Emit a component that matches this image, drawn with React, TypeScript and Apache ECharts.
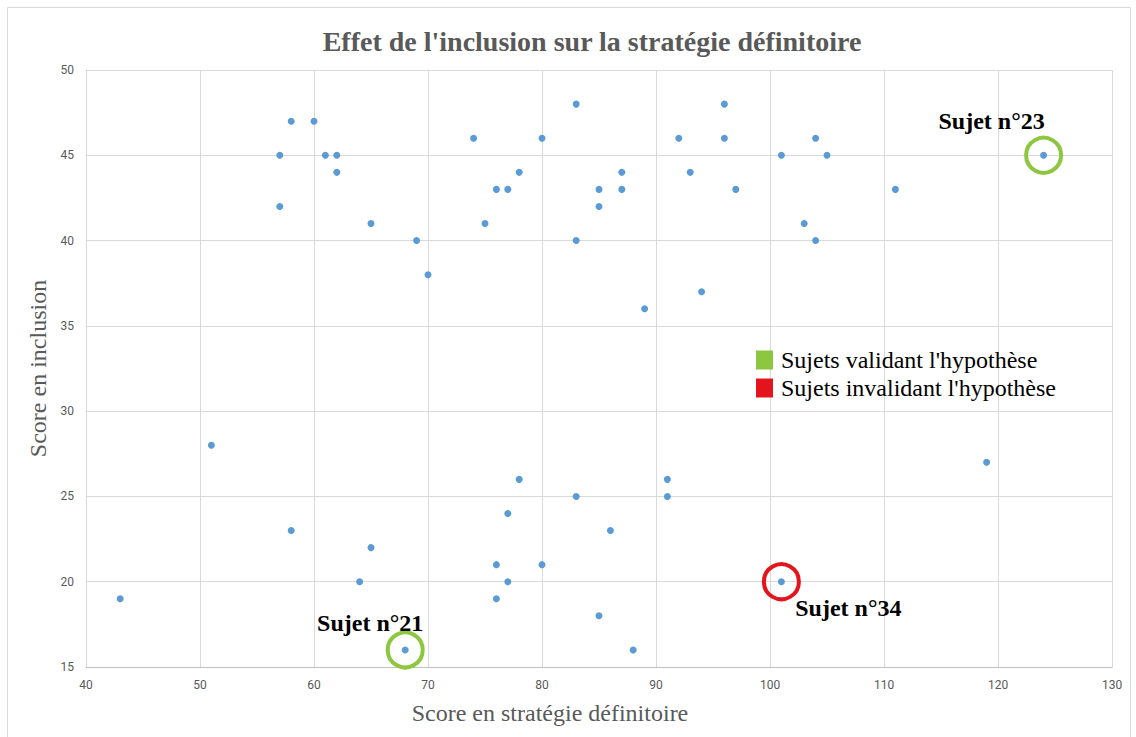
import React, { useEffect, useRef } from "react";
import * as echarts from "echarts";

// Score en stratégie définitoire (x) / Score en inclusion (y)
const strategyScores = [
  57, 57, 58, 60, 61, 62, 62, 65, 69, 70, 74, 75, 76, 77, 78, 80, 83, 83, 85, 85,
  87, 87, 89, 92, 93, 94, 96, 96, 97, 101, 103, 104, 104, 105, 111, 124,
  43, 51, 58, 64, 65, 68, 76, 76, 77, 77, 78, 80, 83, 85, 86, 88, 91, 91, 101, 119,
];
const inclusionScores = [
  45, 42, 47, 47, 45, 45, 44, 41, 40, 38, 46, 41, 43, 43, 44, 46, 48, 40, 43, 42,
  44, 43, 36, 46, 44, 37, 48, 46, 43, 45, 41, 46, 40, 45, 43, 45,
  19, 28, 23, 20, 22, 16, 21, 19, 24, 20, 26, 21, 25, 18, 23, 16, 26, 25, 20, 27,
];

const validatingNames = ["Sujet n°23", "Sujet n°21"];
const validatingX = [124, 68];
const validatingY = [45, 16];

const invalidatingNames = ["Sujet n°34"];
const invalidatingX = [101];
const invalidatingY = [20];

const xTicks = { min: 40, max: 130, interval: 10 };
const yTicks = { min: 15, max: 50, interval: 5 };

const TITLE = "Effet de l'inclusion sur la stratégie définitoire";
const X_NAME = "Score en stratégie définitoire";
const Y_NAME = "Score en inclusion";
const LEGEND_VALID = "Sujets validant l'hypothèse";
const LEGEND_INVALID = "Sujets invalidant l'hypothèse";

const GREEN = "#8DC63F";
const RED = "#E3141B";
const BLUE = "#5B9BD5";
const SERIF = "'Liberation Serif', 'Times New Roman', serif";
const SANS = "Roboto, 'Open Sans', sans-serif";

export default function App() {
  const ref = useRef<HTMLDivElement>(null);

  useEffect(() => {
    if (!ref.current) return;
    const chart = echarts.init(ref.current, undefined, { renderer: "svg" });

    const points = strategyScores.map((x, i) => [x, inclusionScores[i]]);
    const validOffsets = [
      [-52, -34],
      [-35, -27],
    ];
    const validData = validatingX.map((x, i) => ({
      name: validatingNames[i],
      value: [x, validatingY[i]],
      label: { offset: validOffsets[i] },
    }));
    const invalidData = invalidatingX.map((x, i) => ({
      name: invalidatingNames[i],
      value: [x, invalidatingY[i]],
      label: { offset: [67, 26] },
    }));

    const ringLabel = {
      show: true,
      position: "inside",
      formatter: (p: any) => p.name,
      color: "#000",
      fontFamily: SERIF,
      fontWeight: "bold",
      fontSize: 24,
      align: "center",
      verticalAlign: "middle",
      textBorderWidth: 0,
    };

    chart.setOption({
      animation: false,
      backgroundColor: "#fff",
      title: {
        text: TITLE,
        left: 587,
        top: 22,
        textAlign: "center",
        textStyle: {
          fontFamily: SERIF,
          fontWeight: "bold",
          fontSize: 28,
          color: "#595959",
        },
      },
      legend: {
        orient: "vertical",
        left: 751,
        top: 343,
        itemWidth: 17,
        itemHeight: 19,
        itemGap: 4,
        icon: "rect",
        data: [
          { name: LEGEND_VALID, itemStyle: { color: GREEN, borderWidth: 0, opacity: 1 } },
          { name: LEGEND_INVALID, itemStyle: { color: RED, borderWidth: 0, opacity: 1 } },
        ],
        textStyle: {
          fontFamily: SERIF,
          fontSize: 24,
          color: "#000",
          padding: [0, 0, 0, 3],
        },
      },
      grid: { left: 86, right: 24, top: 70, bottom: 70, containLabel: false },
      xAxis: {
        type: "value",
        min: xTicks.min,
        max: xTicks.max,
        interval: xTicks.interval,
        name: X_NAME,
        nameLocation: "middle",
        nameGap: 34,
        nameTextStyle: {
          fontFamily: SERIF,
          fontSize: 24,
          color: "#595959",
          padding: [0, 98, 0, 0],
        },
        axisLine: { show: true, lineStyle: { color: "#bfbfbf", width: 1 } },
        axisTick: { show: false },
        axisLabel: { fontFamily: SANS, fontSize: 12, color: "#595959", margin: 12 },
        splitLine: { show: true, lineStyle: { color: "#d9d9d9", width: 1 } },
      },
      yAxis: {
        type: "value",
        min: yTicks.min,
        max: yTicks.max,
        interval: yTicks.interval,
        name: Y_NAME,
        nameLocation: "middle",
        nameGap: 32,
        nameTextStyle: { fontFamily: SERIF, fontSize: 24, color: "#595959" },
        axisLine: { show: false },
        axisTick: { show: false },
        axisLabel: { fontFamily: SANS, fontSize: 12, color: "#595959", margin: 12 },
        splitLine: { show: true, lineStyle: { color: "#d9d9d9", width: 1 } },
      },
      series: [
        {
          name: LEGEND_VALID,
          type: "scatter",
          data: validData,
          symbol: "circle",
          symbolSize: 35,
          z: 2,
          itemStyle: {
            color: "transparent",
            borderColor: GREEN,
            borderWidth: 4,
            opacity: 1,
          },
          label: ringLabel,
        },
        {
          name: LEGEND_INVALID,
          type: "scatter",
          data: invalidData,
          symbol: "circle",
          symbolSize: 35,
          z: 2,
          itemStyle: {
            color: "transparent",
            borderColor: RED,
            borderWidth: 4,
            opacity: 1,
          },
          label: ringLabel,
        },
        {
          name: "Sujets",
          type: "scatter",
          data: points,
          symbol: "circle",
          symbolSize: 7,
          z: 3,
          itemStyle: { color: BLUE, opacity: 1 },
        },
      ],
      graphic: [
        {
          type: "rect",
          shape: { x: 7.5, y: 7.5, width: 1123, height: 740 },
          style: { fill: "none", stroke: "#d9d9d9", lineWidth: 1 },
          silent: true,
          z: -1,
        },
      ],
    });

    return () => chart.dispose();
  }, []);

  return (
    <div
      ref={ref}
      style={{ position: "fixed", left: 0, top: 0, width: 1136, height: 737 }}
    />
  );
}
